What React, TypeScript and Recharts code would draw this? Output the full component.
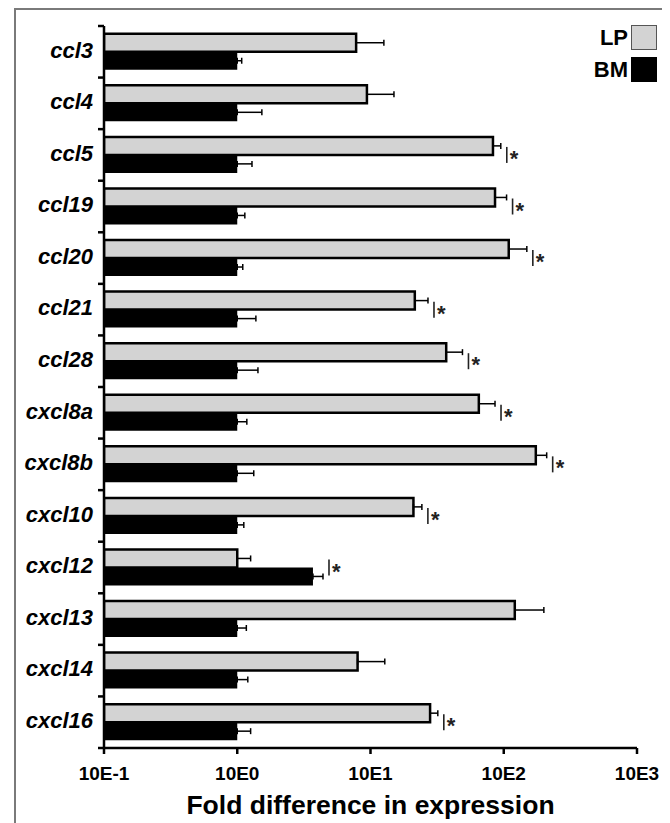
import React from "react";
import {
  BarChart,
  Bar,
  XAxis,
  YAxis,
  ErrorBar,
  ReferenceDot,
} from "recharts";

// Genes, top to bottom
const genes = [
  "ccl3", "ccl4", "ccl5", "ccl19", "ccl20", "ccl21", "ccl28",
  "cxcl8a", "cxcl8b", "cxcl10", "cxcl12", "cxcl13", "cxcl14", "cxcl16",
];

// Fold difference (mean) and top of the error whisker
const lpMean = [7.8, 9.4, 83, 86, 109, 21.5, 37, 65, 174, 21, 1.0, 121, 8.0, 28];
const lpHigh = [12.6, 15, 95, 105, 149, 27, 49, 86, 210, 24.3, 1.26, 200, 12.8, 32];
const bmMean = [1, 1, 1, 1, 1, 1, 1, 1, 1, 1, 3.7, 1, 1, 1];
const bmHigh = [1.08, 1.53, 1.29, 1.14, 1.1, 1.38, 1.43, 1.18, 1.33, 1.12, 4.4, 1.17, 1.2, 1.26];

// Genes marked with an asterisk
const sigGenes = ["ccl5", "ccl19", "ccl20", "ccl21", "ccl28", "cxcl8a", "cxcl8b", "cxcl10", "cxcl12", "cxcl16"];

const xTicks = [0.1, 1, 10, 100, 1000];
const xTickLabels = ["10E-1", "10E0", "10E1", "10E2", "10E3"];

const series = [
  { key: "lp", name: "LP", fill: "#d3d3d3" },
  { key: "bm", name: "BM", fill: "#000000" },
];

const FONT = '"Liberation Sans", Arial, Helvetica, sans-serif';

const data = genes.map((gene, i) => ({
  gene,
  lp: lpMean[i],
  bm: bmMean[i],
  lpErr: [0, lpHigh[i] - lpMean[i]],
  bmErr: [0, bmHigh[i] - bmMean[i]],
}));

const GeneTick = (props: any) => {
  const { x, y, payload, index, visibleTicksCount } = props;
  const axisX = x + 11;
  const half = payload.offset ?? 25.8;
  const top = y - half;
  return (
    <g>
      <line x1={axisX - 6} x2={axisX} y1={top} y2={top} stroke="#000" strokeWidth={2.5} />
      {index === visibleTicksCount - 1 && (
        <line x1={axisX - 6} x2={axisX} y1={y + half} y2={y + half} stroke="#000" strokeWidth={2.5} />
      )}
      <text
        x={x}
        y={y - 2}
        dy="0.355em"
        textAnchor="end"
        fill="#000"
        fontFamily={FONT}
        fontSize={22}
        fontWeight={700}
        fontStyle="italic"
      >
        {payload.value}
      </text>
    </g>
  );
};

const FoldTick = (props: any) => {
  const { x, y, payload } = props;
  return (
    <text
      x={x}
      y={y}
      dy="0.71em"
      textAnchor="middle"
      fill="#000"
      fontFamily={FONT}
      fontSize={19}
      fontWeight={700}
    >
      {xTickLabels[xTicks.indexOf(payload.value)] ?? String(payload.value)}
    </text>
  );
};

const StarMark = (props: any) => {
  const { cx, cy } = props;
  return (
    <g>
      <line x1={cx + 6} x2={cx + 6} y1={cy - 8} y2={cy + 8} stroke="#222" strokeWidth={1.6} />
      <text x={cx + 9} y={cy + 11} fontFamily={FONT} fontWeight={700} fontSize={22} fill="#222">
        *
      </text>
    </g>
  );
};

function SeriesLegend() {
  return (
    <div
      style={{
        position: "absolute",
        top: 15,
        right: 7,
        fontFamily: FONT,
        fontWeight: 700,
        fontSize: 22,
        color: "#000",
      }}
    >
      {series.map((s) => (
        <div
          key={s.key}
          style={{ display: "flex", justifyContent: "flex-end", alignItems: "center", height: 25, marginBottom: 7 }}
        >
          <span style={{ marginRight: 3, lineHeight: "25px" }}>{s.name}</span>
          <span
            style={{
              display: "inline-block",
              width: 26,
              height: 25,
              boxSizing: "border-box",
              background: s.fill,
              border: s.key === "lp" ? "1.5px solid #555" : "none",
            }}
          />
        </div>
      ))}
    </div>
  );
}

export default function App() {
  return (
    <>
      <style>{"html,body{overflow:hidden}"}</style>
      <div
        style={{
          position: "relative",
          marginLeft: 6,
          width: 648,
          height: 813,
          border: "2px solid #7a7a7a",
          borderBottom: "none",
          background: "#fff",
        }}
      >
        <BarChart
          layout="vertical"
          width={648}
          height={813}
          data={data}
          margin={{ top: 16, right: 27, left: 0, bottom: 0 }}
          barCategoryGap="15%"
          barGap={0}
        >
          <XAxis
            type="number"
            scale="log"
            domain={[0.1, 1000]}
            allowDataOverflow
            ticks={xTicks}
            height={75}
            tickSize={6}
            tickMargin={13}
            axisLine={{ stroke: "#000", strokeWidth: 2.5 }}
            tickLine={{ stroke: "#000", strokeWidth: 2.5 }}
            tick={<FoldTick />}
            label={{
              value: "Fold difference in expression",
              position: "insideBottom",
              offset: 9,
              fill: "#000",
              fontSize: 26.5,
              fontWeight: 700,
              fontFamily: FONT,
            }}
          />
          <YAxis
            type="category"
            dataKey="gene"
            width={88}
            tickSize={0}
            tickMargin={11}
            tickLine={false}
            interval={0}
            axisLine={{ stroke: "#000", strokeWidth: 2.5 }}
            tick={<GeneTick />}
          />
          <Bar dataKey="lp" name="LP" fill={series[0].fill} stroke="#000" strokeWidth={2.5} isAnimationActive={false}>
            <ErrorBar dataKey="lpErr" direction="x" width={3} stroke="#000" strokeWidth={1.5} isAnimationActive={false} />
          </Bar>
          <Bar dataKey="bm" name="BM" fill={series[1].fill} isAnimationActive={false}>
            <ErrorBar dataKey="bmErr" direction="x" width={3} stroke="#000" strokeWidth={1.5} isAnimationActive={false} />
          </Bar>
          {sigGenes.map((g) => {
            const i = genes.indexOf(g);
            return (
              <ReferenceDot
                key={g}
                x={Math.max(lpHigh[i], bmHigh[i])}
                y={g}
                r={0}
                ifOverflow="visible"
                shape={StarMark}
              />
            );
          })}
        </BarChart>
        <SeriesLegend />
      </div>
    </>
  );
}
